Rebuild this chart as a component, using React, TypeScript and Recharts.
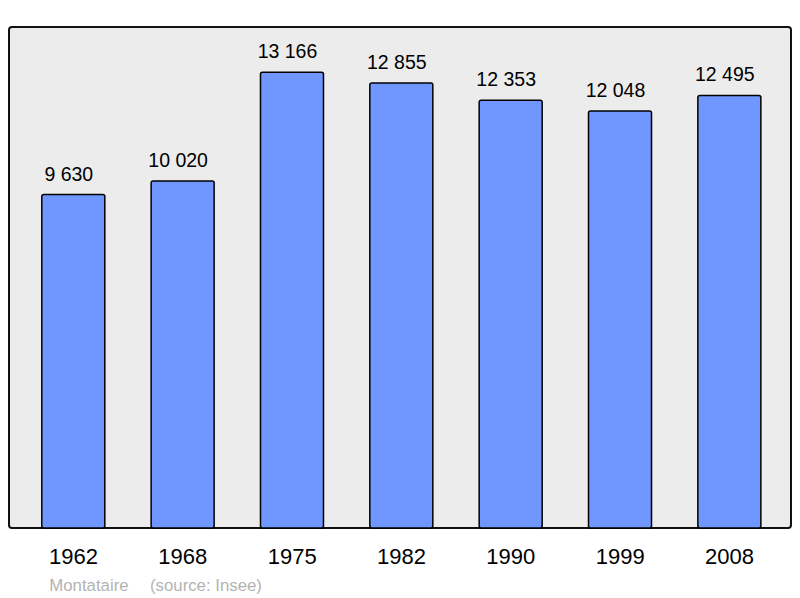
import React from 'react';
import { BarChart, Bar, XAxis, YAxis, LabelList } from 'recharts';

const years = ['1962', '1968', '1975', '1982', '1990', '1999', '2008'];
const population = [9630, 10020, 13166, 12855, 12353, 12048, 12495];
const townName = 'Montataire';
const sourceText = '(source: Insee)';

const data = years.map((y, i) => ({ year: y, value: population[i] }));

const FONT = '"Liberation Sans", Arial, sans-serif';

const fmt = (v: any) => String(v).replace(/\B(?=(\d{3})+(?!\d))/g, ' ');

export default function App() {
  return (
    <div style={{ position: 'relative', width: 784, height: 590, fontFamily: FONT }}>
      <div
        style={{
          position: 'absolute',
          left: 0,
          top: 18,
          width: 784,
          height: 503,
          boxSizing: 'border-box',
          border: '2px solid #111',
          borderRadius: 4,
          background: '#ececec',
        }}
      />
      <div style={{ position: 'absolute', left: 0, top: 0 }}>
        <BarChart
          width={784}
          height={590}
          data={data}
          margin={{ top: 18, right: 1, bottom: 30, left: 1 }}
        >
          <XAxis
            dataKey="year"
            height={40}
            axisLine={false}
            tickLine={false}
            tickSize={0}
            tickMargin={20}
            padding={{ left: 9.8, right: 6.8 }}
            tick={{ fill: '#000', fontSize: 22, fontFamily: FONT }}
            interval={0}
          />
          <YAxis hide domain={[0, 14500]} />
          <Bar
            dataKey="value"
            fill="#7097ff"
            stroke="#000"
            strokeWidth={1.5}
            barSize={63}
            radius={2}
            isAnimationActive={false}
          >
            <LabelList
              dataKey="value"
              position="top"
              offset={14}
              dx={-4.5}
              formatter={fmt}
              fill="#000"
              fontSize={19.5}
              fontFamily={FONT}
            />
          </Bar>
        </BarChart>
      </div>
      <svg
        width={784}
        height={590}
        style={{ position: 'absolute', left: 0, top: 0, pointerEvents: 'none' }}
      >
        <text x={41.3} y={582.7} fontSize={16.8} fill="#b3b3b3" fontFamily={FONT}>
          {townName}
        </text>
        <text x={142} y={582.7} fontSize={16.8} fill="#b3b3b3" fontFamily={FONT}>
          {sourceText}
        </text>
      </svg>
    </div>
  );
}
